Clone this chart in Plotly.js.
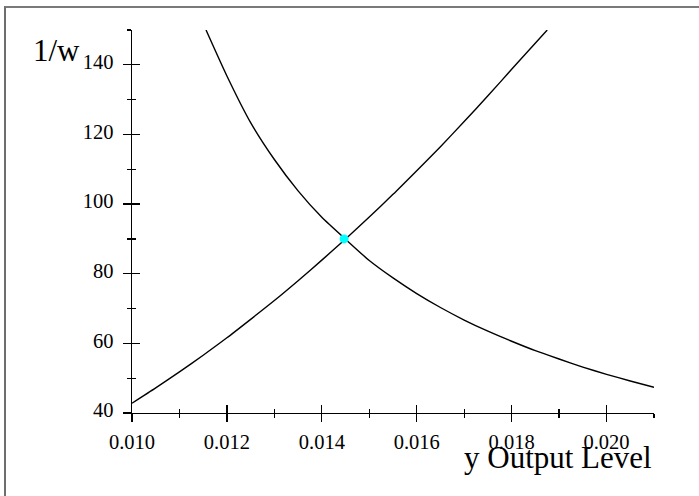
<!DOCTYPE html>
<html>
<head>
<meta charset="utf-8">
<script src="https://cdn.plot.ly/plotly-3.0.1.min.js"></script>
<style>
html,body{margin:0;padding:0;background:#fff;}
#wrap{position:relative;width:699px;height:496px;}
#chart{width:699px;height:496px;}
#frame{position:absolute;left:4px;top:6px;right:0;bottom:0;border-left:2px solid #6e6e6e;border-top:2px solid #7a7a7a;pointer-events:none;}
</style>
</head>
<body>
<div id="wrap"><div id="chart"></div><div id="frame"></div></div>
<script>
// Rising curve
const riseX = [0.0100,0.0105,0.0110,0.0115,0.0120,0.0125,0.0130,0.0135,0.0140,0.0145,0.0150,0.0155,0.0160,0.0165,0.0170,0.0175,0.0180,0.01875];
const riseY = [42.8,47.2,51.8,56.6,61.6,66.9,72.3,78.0,83.9,90.0,96.3,102.8,109.6,116.5,123.7,131.1,138.7,150.0];
// Falling curve
const fallX = [0.01156,0.0120,0.0125,0.0130,0.0135,0.0140,0.0145,0.0150,0.0155,0.0160,0.0165,0.0170,0.0175,0.0180,0.0185,0.0190,0.0195,0.0200,0.0205,0.0210];
const fallY = [150.0,136.8,123.4,112.8,103.8,96.2,89.9,83.8,78.8,74.3,70.3,66.7,63.5,60.6,57.9,55.5,53.2,51.1,49.2,47.4];
// Equilibrium point
const eqX = [0.01447];
const eqY = [90.0];
// Axes
const xRange = [0.010, 0.021];
const yRange = [40, 150];
const xTitle = "y Output Level";
const yTitle = "1/w";

const serif = "Liberation Serif, Times New Roman, serif";
const lineStyle = {color:"#000", width:1.4, shape:"spline", smoothing:0.6};

const traces = [
  {x:riseX, y:riseY, mode:"lines", line:lineStyle, hoverinfo:"skip"},
  {x:fallX, y:fallY, mode:"lines", line:lineStyle, hoverinfo:"skip"},
  {x:eqX, y:eqY, mode:"markers", marker:{color:"#00ffff", size:9}, hoverinfo:"skip"},
  {x:xRange, y:yRange, xaxis:"x2", yaxis:"y2", mode:"markers", marker:{opacity:0}, hoverinfo:"skip"}
];

const tickFont = {family:serif, size:20.5, color:"#000"};
const baseX = {range:xRange, showgrid:false, zeroline:false, fixedrange:true};
const baseY = {range:yRange, showgrid:false, zeroline:false, fixedrange:true};

const layout = {
  width:699, height:496,
  margin:{l:132, r:45, t:30, b:83},
  paper_bgcolor:"#fff", plot_bgcolor:"#fff",
  showlegend:false, hovermode:false,
  xaxis:Object.assign({}, baseX, {
    showline:true, linecolor:"#000", linewidth:1.3,
    tick0:0.010, dtick:0.002, tickformat:".3f",
    ticks:"outside", ticklen:8, tickwidth:1.3, tickcolor:"#000",
    minor:{tick0:0.010, dtick:0.001, ticks:"outside", ticklen:4, tickwidth:1.3, tickcolor:"#000"},
    tickfont:tickFont, ticklabelstandoff:2
  }),
  yaxis:Object.assign({}, baseY, {
    showline:true, linecolor:"#000", linewidth:1.3,
    tick0:40, dtick:20,
    ticks:"outside", ticklen:8, tickwidth:1.3, tickcolor:"#000",
    minor:{tick0:40, dtick:10, ticks:"outside", ticklen:4, tickwidth:1.3, tickcolor:"#000"},
    tickfont:tickFont, ticklabelstandoff:5, ticklabelshift:-3
  }),
  xaxis2:Object.assign({}, baseX, {
    overlaying:"x", anchor:"y2", side:"bottom", showline:false,
    tick0:0.010, dtick:0.002, showticklabels:false,
    ticks:"inside", ticklen:8, tickwidth:1.3, tickcolor:"#000",
    minor:{tick0:0.010, dtick:0.001, ticks:"inside", ticklen:4, tickwidth:1.3, tickcolor:"#000"}
  }),
  yaxis2:Object.assign({}, baseY, {
    overlaying:"y", anchor:"x2", side:"left", showline:false,
    tick0:40, dtick:20, showticklabels:false,
    ticks:"inside", ticklen:8, tickwidth:1.3, tickcolor:"#000",
    minor:{tick0:40, dtick:10, ticks:"inside", ticklen:4, tickwidth:1.3, tickcolor:"#000"}
  }),
  annotations:[
    {text:xTitle, xref:"paper", yref:"paper", x:1, y:0, xanchor:"right", yanchor:"middle", yshift:-44, showarrow:false,
     font:{family:serif, size:31, color:"#000"}},
    {text:yTitle, xref:"paper", yref:"paper", x:-0.1935, y:1, xanchor:"left", yanchor:"middle", yshift:-20, showarrow:false,
     font:{family:serif, size:31, color:"#000"}}
  ]
};

Plotly.newPlot("chart", traces, layout, {displayModeBar:false, staticPlot:true});
</script>
</body>
</html>
